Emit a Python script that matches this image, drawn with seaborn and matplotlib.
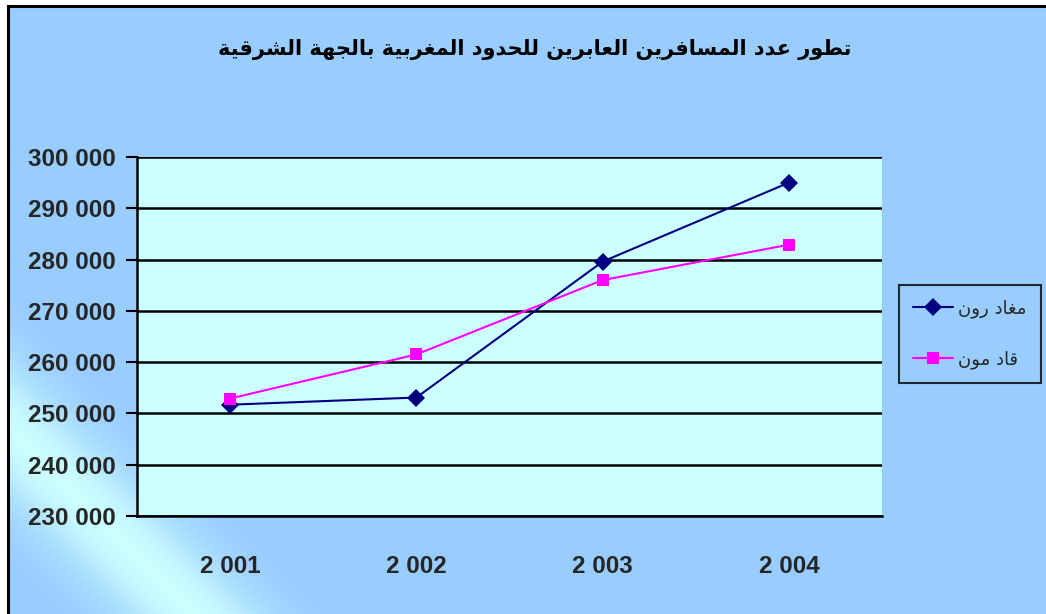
import numpy as np
import pandas as pd
import matplotlib
matplotlib.use("Agg")
import matplotlib.pyplot as plt
import seaborn as sns
from matplotlib.ticker import FuncFormatter, FixedLocator

years = ["2 001", "2 002", "2 003", "2 004"]
departures = [251700, 253100, 279600, 295000]   # مغاد رون
arrivals = [252900, 261500, 276000, 282900]     # قاد مون
title_txt = "تطور عدد المسافرين العابرين للحدود المغربية بالجهة الشرقية"
label_dep = "مغاد رون"
label_arr = "قاد مون"

# --- minimal arabic shaping (matplotlib has no RTL / joining support) ---
forms = {
    "ا": ("\uFE8D", "\uFE8E", None, None),
    "ب": ("\uFE8F", "\uFE90", "\uFE91", "\uFE92"),
    "ة": ("\uFE93", "\uFE94", None, None),
    "ت": ("\uFE95", "\uFE96", "\uFE97", "\uFE98"),
    "ج": ("\uFE9D", "\uFE9E", "\uFE9F", "\uFEA0"),
    "ح": ("\uFEA1", "\uFEA2", "\uFEA3", "\uFEA4"),
    "د": ("\uFEA9", "\uFEAA", None, None),
    "ر": ("\uFEAD", "\uFEAE", None, None),
    "س": ("\uFEB1", "\uFEB2", "\uFEB3", "\uFEB4"),
    "ش": ("\uFEB5", "\uFEB6", "\uFEB7", "\uFEB8"),
    "ط": ("\uFEC1", "\uFEC2", "\uFEC3", "\uFEC4"),
    "ع": ("\uFEC9", "\uFECA", "\uFECB", "\uFECC"),
    "غ": ("\uFECD", "\uFECE", "\uFECF", "\uFED0"),
    "ف": ("\uFED1", "\uFED2", "\uFED3", "\uFED4"),
    "ق": ("\uFED5", "\uFED6", "\uFED7", "\uFED8"),
    "ل": ("\uFEDD", "\uFEDE", "\uFEDF", "\uFEE0"),
    "م": ("\uFEE1", "\uFEE2", "\uFEE3", "\uFEE4"),
    "ن": ("\uFEE5", "\uFEE6", "\uFEE7", "\uFEE8"),
    "ه": ("\uFEE9", "\uFEEA", "\uFEEB", "\uFEEC"),
    "و": ("\uFEED", "\uFEEE", None, None),
    "ي": ("\uFEF1", "\uFEF2", "\uFEF3", "\uFEF4"),
}


def shape(s):
    out = []
    for i, ch in enumerate(s):
        if ch not in forms:
            out.append(ch)
            continue
        prev = s[i - 1] if i > 0 else ""
        nxt = s[i + 1] if i + 1 < len(s) else ""
        join_prev = prev in forms and forms[prev][2] is not None
        join_next = nxt in forms and forms[ch][2] is not None
        iso, fin, ini, med = forms[ch]
        if join_prev and join_next:
            out.append(med)
        elif join_prev:
            out.append(fin)
        elif join_next:
            out.append(ini)
        else:
            out.append(iso)
    return "".join(out)[::-1]


df = pd.DataFrame({
    "x": list(range(len(years))) * 2,
    "value": departures + arrivals,
    "series": [shape(label_dep)] * 4 + [shape(label_arr)] * 4,
})

sns.set_style("white")
plt.rcParams["font.family"] = ["DejaVu Sans"]
num_font = ["Liberation Sans", "DejaVu Sans"]

W, H = 1046, 614
fig = plt.figure(figsize=(W / 100, H / 100), dpi=100)
fig.patch.set_facecolor("white")

# background gradient with a light diagonal band lower left
bg = fig.add_axes([8 / W, 0, 1 - 8 / W, 1 - 6 / H])
rows, cols = np.mgrid[0:H - 6, 0:W - 8]
px = cols + 8
py = rows + 6
d = (px - py + 420) / 1.414
t = np.exp(-(d / 50.0) ** 2)
blue = np.array([0x99, 0xCC, 0xFF]) / 255
cyan = np.array([0xCC, 0xFF, 0xFF]) / 255
img = blue[None, None, :] * (1 - t[..., None]) + cyan[None, None, :] * t[..., None]
bg.imshow(img, aspect="auto", origin="upper", extent=[0, 1, 0, 1])
bg.set_xticks([])
bg.set_yticks([])
for side in ["right", "bottom"]:
    bg.spines[side].set_visible(False)
for side in ["left", "top"]:
    bg.spines[side].set_linewidth(2.2)
    bg.spines[side].set_color("black")

ax = fig.add_axes([137 / W, 98 / H, 745 / W, 359 / H])
ax.set_facecolor("#CCFFFF")

palette = {shape(label_dep): "#000080", shape(label_arr): "#FF00FF"}
markers = {shape(label_dep): "D", shape(label_arr): "s"}
sns.lineplot(data=df, x="x", y="value", hue="series", style="series",
             palette=palette, markers=markers, dashes=False, linewidth=1.5,
             markersize=9, markeredgewidth=0, ax=ax, legend=True)

ax.set_ylim(230000, 300000)
ax.set_xlim(-0.5, len(years) - 0.5)
ax.set_yticks(range(230000, 300001, 10000))
ax.yaxis.set_major_formatter(FuncFormatter(lambda v, p: f"{int(v):,}".replace(",", " ")))
ax.grid(axis="y", color="black", linewidth=1.8)
ax.set_axisbelow(True)
ax.set_xticks(range(len(years)))
ax.set_xticklabels(years)
ax.xaxis.set_minor_locator(FixedLocator(np.arange(-0.5, len(years), 1.0)))
ax.tick_params(axis="x", which="major", length=0, pad=28)
ax.tick_params(axis="x", which="minor", length=8, width=1.5, color="black", direction="out")
ax.tick_params(axis="y", length=8, width=1.5, color="black", direction="out", pad=7, left=True)
for lab in ax.get_xticklabels() + ax.get_yticklabels():
    lab.set_family(num_font)
    lab.set_fontweight("bold")
    lab.set_fontsize(17.5)
ax.set_xlabel("")
ax.set_ylabel("")
for side in ["top", "right"]:
    ax.spines[side].set_visible(False)
for side in ["left", "bottom"]:
    ax.spines[side].set_linewidth(1.8)
    ax.spines[side].set_color("black")

fig.text(535 / W, 1 - 49 / H, shape(title_txt), ha="center", va="center",
         fontsize=15, fontweight="bold", color="black")

ax.get_legend().remove()
handles, labels = ax.get_legend_handles_labels()
leg = fig.legend(handles, labels, loc="center right",
                 bbox_to_anchor=(1041 / W, 1 - 334 / H), bbox_transform=fig.transFigure,
                 frameon=True, fancybox=False, fontsize=13, handlelength=2.2,
                 borderpad=0.8, labelspacing=1.8, handletextpad=0.3, borderaxespad=0)
leg.get_frame().set_edgecolor("black")
leg.get_frame().set_linewidth(1.5)
leg.get_frame().set_facecolor("#99CCFF")

fig.savefig("out.png", dpi=100)
